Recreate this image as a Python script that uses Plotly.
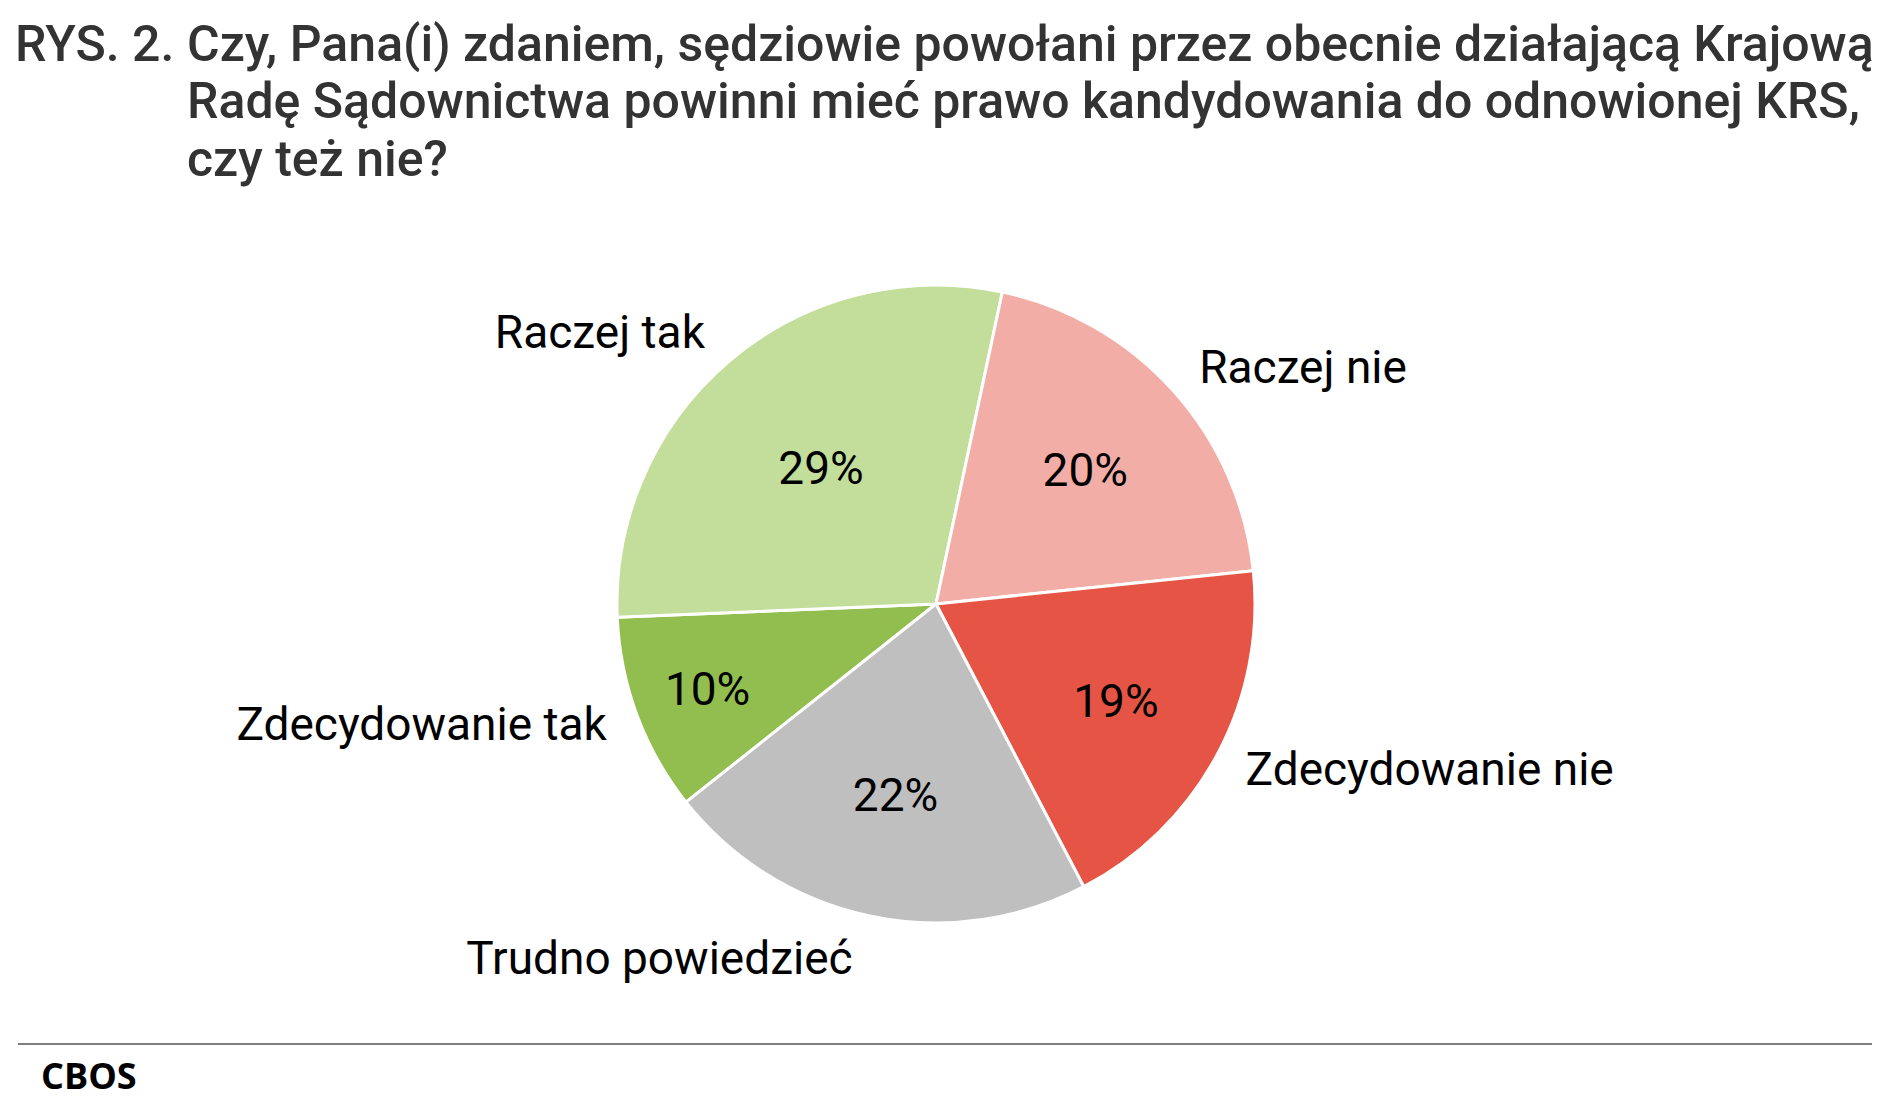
import plotly.graph_objects as go

# data, in CBOS answer order
answers = ["Zdecydowanie tak", "Raczej tak", "Raczej nie", "Zdecydowanie nie", "Trudno powiedzieć"]
shares = [10, 29, 20, 19, 22]
slice_colors = ["#92BE4F", "#C3DE9A", "#F3ADA7", "#E55444", "#BFBFBF"]

title_prefix = "RYS. 2."
title_lines = [
    "Czy, Pana(i) zdaniem, sędziowie powołani przez obecnie działającą Krajową",
    "Radę Sądownictwa powinni mieć prawo kandydowania do odnowionej KRS,",
    "czy też nie?",
]
source = "CBOS"

W, H = 1891, 1107
PAD = 8                # page body margin in the browser
cx, cy = 936, 604      # pie centre in px (page coordinates)
r_pie = 319
r_labels = 336
start_angle = 231.6


def px_x(x):
    return (x - PAD) / W


def px_y(y):
    return 1 - (y - PAD) / H


def dom(r):
    return dict(x=[px_x(cx - r), px_x(cx + r)],
                y=[px_y(cy + r), px_y(cy - r)])


fig = go.Figure()

# percentages inside the slices
fig.add_trace(go.Pie(
    labels=answers, values=shares, sort=False, direction="clockwise",
    rotation=start_angle, domain=dom(r_pie),
    marker=dict(colors=slice_colors, line=dict(color="white", width=3)),
    textinfo="percent", texttemplate="%{percent:.0%}",
    textposition="inside", insidetextorientation="horizontal",
    textfont=dict(family="Roboto", size=46, color="black"),
    showlegend=False, hoverinfo="label+percent",
))

# category names around the pie (transparent copy, text only)
fig.add_trace(go.Pie(
    labels=answers, values=shares, sort=False, direction="clockwise",
    rotation=start_angle, domain=dom(r_labels),
    marker=dict(colors=["rgba(0,0,0,0)"] * len(answers), line=dict(width=0)),
    textinfo="label", textposition="outside",
    textfont=dict(family="Roboto", size=46, color="black"),
    showlegend=False, hoverinfo="skip",
))

title_font = dict(family="Roboto", size=50, color="#333333", weight=500)
fig.add_annotation(text=title_prefix, x=px_x(13), y=px_y(63), xref="paper", yref="paper",
                   xanchor="left", yanchor="bottom", showarrow=False, font=title_font, yshift=-12)
for i, line in enumerate(title_lines):
    fig.add_annotation(text=line, x=px_x(185), y=px_y(63 + 57.5 * i), xref="paper", yref="paper",
                       xanchor="left", yanchor="bottom", showarrow=False, font=title_font, yshift=-12)

# footer rule and source
fig.add_shape(type="line", xref="paper", yref="paper",
              x0=px_x(18), x1=px_x(1872), y0=px_y(1044), y1=px_y(1044),
              line=dict(color="#808080", width=2))
fig.add_annotation(text="<b>" + source + "</b>", x=px_x(39), y=px_y(1075), xref="paper", yref="paper",
                   xanchor="left", yanchor="middle", showarrow=False,
                   font=dict(family="Open Sans", size=36, color="black"))

fig.update_layout(
    width=W, height=H,
    margin=dict(l=0, r=0, t=0, b=0),
    paper_bgcolor="white", plot_bgcolor="white",
    font=dict(family="Roboto"),
)

fig.write_html("out.html")
